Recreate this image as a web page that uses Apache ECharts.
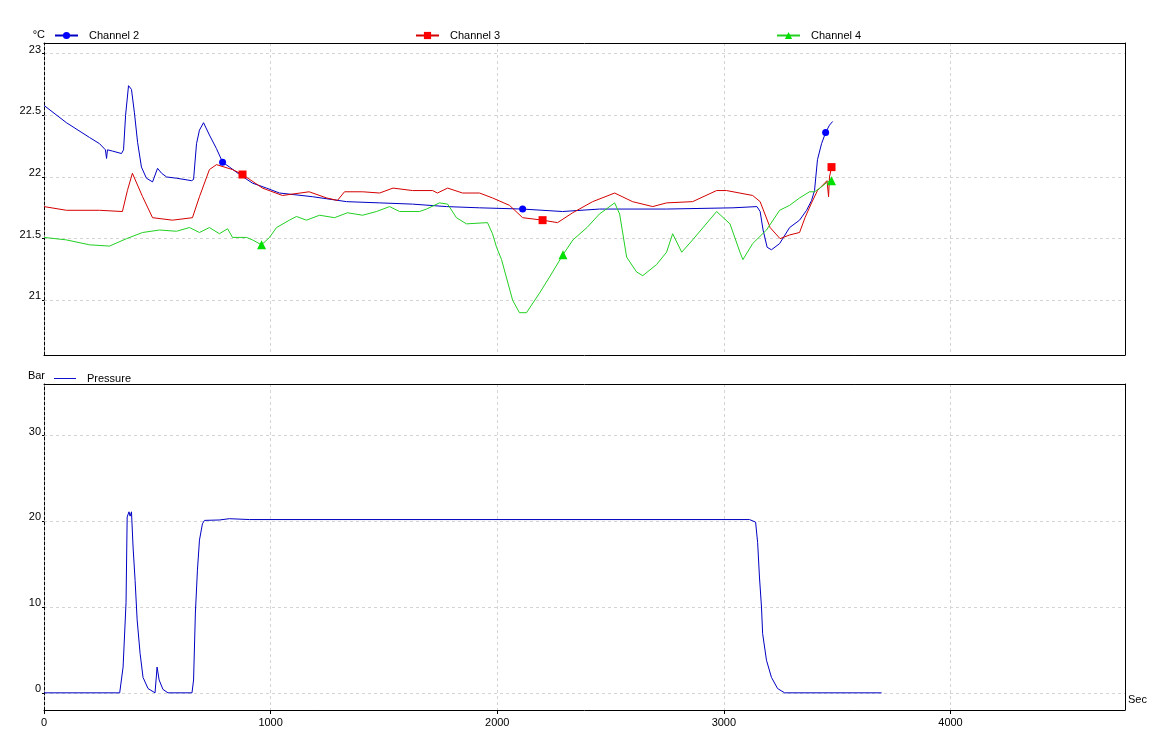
<!DOCTYPE html>
<html><head><meta charset="utf-8">
<script src="https://cdn.jsdelivr.net/npm/echarts@6/dist/echarts.min.js"></script>
<style>html,body{margin:0;padding:0;background:#fff}#c{width:1162px;height:738px}</style>
</head><body><div id="c"></div>
<script>
// ---- data ----
const xTicks = [0, 1000, 2000, 3000, 4000];
const tempTicks = [21, 21.5, 22, 22.5, 23];
const pressTicks = [0, 10, 20, 30];
const seriesNames = ['Channel 2', 'Channel 3', 'Channel 4', 'Pressure'];

const ch2 = [[0,22.58],[99,22.44],[201,22.32],[245,22.27],[271,22.22],[276,22.15],[280,22.22],[302,22.21],[342,22.19],[351,22.22],[360,22.5],[373,22.74],[386,22.71],[399,22.52],[413,22.28],[430,22.08],[452,21.99],[479,21.96],[501,22.07],[519,22.03],[541,22.0],[585,21.99],[651,21.97],[660,21.98],[673,22.27],[686,22.38],[704,22.44],[730,22.34],[761,22.23],[788,22.12],[819,22.08],[863,22.02],[920,21.95],[982,21.91],[1039,21.87],[1185,21.84],[1335,21.80],[1481,21.79],[1626,21.78],[1776,21.76],[1922,21.75],[2112,21.74],[2288,21.72],[2451,21.74],[2747,21.74],[3040,21.75],[3146,21.76],[3160,21.72],[3173,21.57],[3191,21.43],[3210,21.41],[3246,21.46],[3290,21.59],[3334,21.65],[3365,21.73],[3387,21.81],[3400,21.89],[3413,22.14],[3431,22.27],[3449,22.36],[3466,22.42],[3480,22.45]];
const ch2Marks = [788, 2112, 3449];

const ch3 = [[0,21.76],[99,21.73],[245,21.73],[346,21.72],[368,21.89],[390,22.03],[435,21.84],[479,21.67],[567,21.65],[655,21.67],[686,21.84],[730,22.06],[761,22.10],[832,22.06],[876,22.02],[964,21.91],[1052,21.85],[1170,21.88],[1247,21.83],[1295,21.81],[1326,21.88],[1406,21.88],[1481,21.87],[1540,21.91],[1626,21.89],[1715,21.89],[1736,21.87],[1781,21.91],[1847,21.87],[1922,21.87],[1979,21.83],[2054,21.77],[2112,21.67],[2200,21.65],[2266,21.63],[2333,21.71],[2421,21.80],[2518,21.87],[2597,21.80],[2686,21.76],[2747,21.79],[2862,21.80],[2968,21.89],[3012,21.89],[3127,21.85],[3160,21.80],[3204,21.59],[3248,21.50],[3290,21.53],[3334,21.55],[3358,21.67],[3387,21.79],[3413,21.89],[3455,21.97],[3462,21.84],[3466,22.0],[3475,22.08]];
const ch3Marks = [876, 2200, 3475];

const ch4 = [[0,21.51],[99,21.49],[201,21.45],[289,21.44],[364,21.50],[435,21.55],[510,21.57],[585,21.56],[642,21.59],[686,21.55],[730,21.59],[774,21.54],[810,21.58],[832,21.51],[894,21.51],[920,21.49],[960,21.45],[995,21.51],[1026,21.59],[1083,21.65],[1114,21.68],[1158,21.65],[1216,21.69],[1282,21.67],[1339,21.71],[1406,21.69],[1467,21.72],[1525,21.76],[1569,21.72],[1657,21.72],[1688,21.74],[1745,21.79],[1781,21.78],[1820,21.67],[1864,21.62],[1957,21.63],[1979,21.54],[1997,21.43],[2019,21.33],[2068,21.0],[2098,20.90],[2129,20.90],[2187,21.06],[2231,21.19],[2290,21.37],[2334,21.49],[2396,21.59],[2451,21.70],[2518,21.79],[2540,21.70],[2571,21.35],[2615,21.23],[2642,21.20],[2703,21.29],[2747,21.39],[2774,21.54],[2814,21.39],[2862,21.49],[2968,21.72],[3027,21.62],[3071,21.39],[3084,21.33],[3127,21.46],[3188,21.57],[3246,21.73],[3290,21.77],[3334,21.83],[3378,21.88],[3400,21.88],[3431,21.92],[3457,21.96],[3475,21.97]];
const ch4Marks = [960, 2290, 3475];

const pressure = [[0,0],[334,0],[349,3],[362,10.5],[367,20.5],[375,21.1],[380,20.6],[386,21.1],[393,17],[402,13.1],[411,8.5],[424,4.6],[437,1.8],[459,0.5],[490,0],[499,3.0],[508,1.5],[525,0.4],[547,0],[653,0],[660,1.5],[668,9.3],[677,14.3],[686,17.8],[699,19.7],[708,20.1],[774,20.15],[818,20.3],[907,20.2],[3113,20.2],[3140,19.9],[3149,17.5],[3157,13.5],[3166,10],[3171,6.9],[3188,3.8],[3210,1.8],[3237,0.5],[3268,0],[3696,0]];

// ---- chart ----
const FONT = 'Liberation Sans, Arial, sans-serif';
const txt = {color: '#000', fontFamily: FONT, fontSize: 11};
function withMarks(arr, marks) {
  return arr.map(p => marks.indexOf(p[0]) >= 0 ? {value: p} : {value: p, symbol: 'none'});
}
const gridLine = {show: true, lineStyle: {color: '#d4d4d4', type: [3, 3], width: 1}};
const X_MAX = 4770;
function xMain(gi, labels) {
  return {
    type: 'value', gridIndex: gi, position: 'bottom', min: 0, max: X_MAX,
    axisLine: {onZero: false, lineStyle: {color: '#000', width: 1}},
    axisTick: {show: labels, length: 4, customValues: xTicks, lineStyle: {color: '#000'}},
    axisLabel: labels ? Object.assign({margin: 7, customValues: xTicks, formatter: v => String(v)}, txt) : {show: false, customValues: xTicks},
    splitLine: gridLine
  };
}
function frameAxis(kind, gi, pos) {
  return {
    type: 'value', gridIndex: gi, position: pos, min: 0, max: 1,
    axisLine: {show: true, onZero: false, lineStyle: {color: '#000', width: 1}},
    axisTick: {show: false}, axisLabel: {show: false}, splitLine: {show: false}
  };
}
function yMain(gi, min, max, ticks, name) {
  return {
    type: 'value', gridIndex: gi, position: 'left', min: min, max: max,
    name: name, nameLocation: 'end', nameGap: 8,
    nameTextStyle: Object.assign({align: 'right', verticalAlign: 'middle', padding: [0, -1, 0, 0]}, txt),
    axisLine: {onZero: false, lineStyle: {color: '#000', type: [3, 2], width: 1}},
    axisTick: {show: true, length: 2, customValues: ticks, lineStyle: {color: '#000'}},
    axisLabel: Object.assign({customValues: ticks, margin: 3, verticalAlign: 'bottom', lineHeight: 8}, txt),
    splitLine: gridLine
  };
}
const xb = xMain(1, true);
xb.name = 'Sec'; xb.nameLocation = 'end'; xb.nameGap = 3;
xb.nameTextStyle = Object.assign({align: 'left', verticalAlign: 'bottom', padding: [0, 0, 5, 0]}, txt);

function legendAt(name, left, top, extra) {
  return Object.assign({
    data: [name], left: left, top: top, padding: 0, selectedMode: false,
    itemWidth: 23, itemHeight: 9,
    textStyle: Object.assign({padding: [0, 0, 0, 6]}, txt)
  }, extra || {});
}

const option = {
  animation: false,
  backgroundColor: '#fff',
  grid: [
    {left: 44, right: 37, top: 43, height: 312},
    {left: 44, right: 37, top: 384, height: 326}
  ],
  legend: [
    legendAt(seriesNames[0], 54, 30),
    legendAt(seriesNames[1], 415, 30),
    legendAt(seriesNames[2], 776, 30),
    legendAt(seriesNames[3], 54, 373, {icon: 'rect', itemHeight: 1, itemWidth: 22, itemStyle: {color: '#1010d0'}})
  ],
  xAxis: [xMain(0, false), frameAxis('x', 0, 'top'), xb, frameAxis('x', 1, 'top')],
  yAxis: [
    yMain(0, 20.557, 23.086, tempTicks, '°C'), frameAxis('y', 0, 'right'),
    yMain(1, -2, 36, pressTicks, 'Bar'), frameAxis('y', 1, 'right')
  ],
  series: [
    {name: seriesNames[0], type: 'line', xAxisIndex: 0, yAxisIndex: 0, symbol: 'circle', symbolSize: 7, showSymbol: true,
     lineStyle: {color: '#0000c4', width: 1}, itemStyle: {color: '#0000ff'}, data: withMarks(ch2, ch2Marks)},
    {name: seriesNames[1], type: 'line', xAxisIndex: 0, yAxisIndex: 0, symbol: 'rect', symbolSize: 8, showSymbol: true,
     lineStyle: {color: '#d40000', width: 1}, itemStyle: {color: '#ff0000'}, data: withMarks(ch3, ch3Marks)},
    {name: seriesNames[2], type: 'line', xAxisIndex: 0, yAxisIndex: 0, symbol: 'triangle', symbolSize: 9, showSymbol: true,
     lineStyle: {color: '#22d022', width: 1}, itemStyle: {color: '#00e000'}, data: withMarks(ch4, ch4Marks)},
    {name: seriesNames[3], type: 'line', xAxisIndex: 2, yAxisIndex: 2, symbol: 'none', showSymbol: false,
     lineStyle: {color: '#0000c4', width: 1}, itemStyle: {color: '#0000c4'}, data: pressure}
  ]
};
const chart = echarts.init(document.getElementById('c'), null, {renderer: 'canvas'});
chart.setOption(option);
</script>
</body></html>
